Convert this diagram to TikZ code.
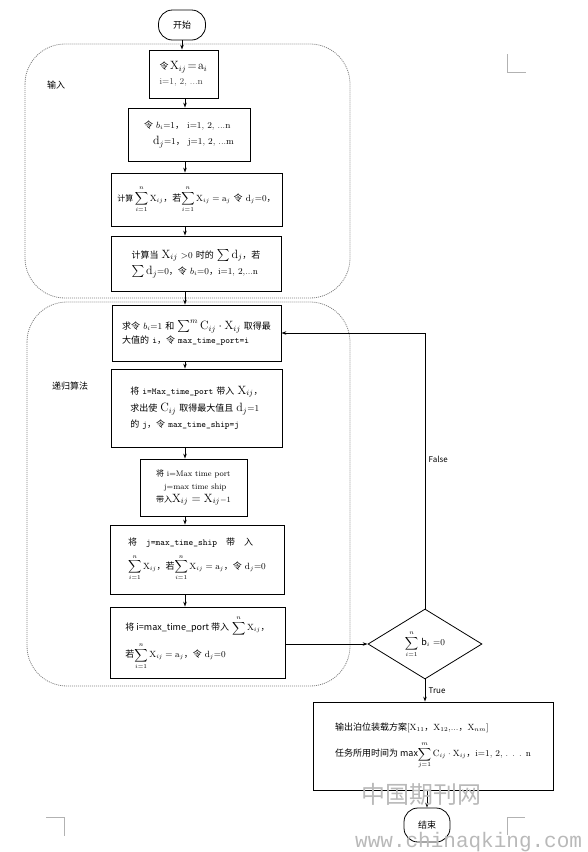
\documentclass[tikz,border=0pt]{standalone}
\usepackage{amsmath,amssymb}
\usepackage{fontspec}
\newfontfamily\cjk{Noto Sans CJK SC}
\newfontfamily\wmfont{Liberation Mono}
\usetikzlibrary{arrows.meta,positioning,shapes.geometric}
\newcommand{\zh}[1]{{\cjk #1}}
\newcommand{\X}{\mathrm{X}}

\begin{document}
\begin{tikzpicture}[x=1pt,y=-1pt,>={Stealth[length=5pt,width=3.5pt]},
  box/.style={draw,line width=0.8pt,align=left,inner sep=3pt,font=\fontsize{9}{11}\selectfont},
  term/.style={draw,line width=0.8pt,rounded corners=14pt,font=\cjk\fontsize{9}{11}\selectfont},
  group/.style={draw=gray,dash pattern=on 1pt off 1pt,line width=0.8pt,rounded corners=40pt},
  flow/.style={->,line width=0.8pt},
  cropmark/.style={draw=gray!60,line width=0.6pt}]
  \path[use as bounding box] (0,0) rectangle (587,852);

  % groups
  \draw[group] (25,44) rectangle (350,298);
  \draw[group] (27,302) rectangle (350,686);
  \node[font=\cjk\fontsize{9}{11}\selectfont] (lblin) at (56,85) {输入};
  \node[font=\cjk\fontsize{9}{11}\selectfont] (lblrec) at (70,386) {递归算法};

  % terminals
  \node[term,minimum width=47pt,minimum height=30pt] (start) at (182,25) {开始};
  \node[term,minimum width=46pt,minimum height=34pt] (stop) at (427,825) {结束};

  % input boxes
  \node[box,minimum width=69pt,minimum height=48pt] (b1) at (183.5,74)
    {\zh{令}\,{\large$\X_{ij}\!=\!\mathrm{a}_i$}\\[4pt] {\color{darkgray}i=1, 2, ...n}};
  \node[box,minimum width=122pt,minimum height=53pt] (b2) at (189,134.5)
    {\zh{令} $b_i$=1\zh{，}\ i=1, 2, ...n\\[5pt]
     \quad{\large$\mathrm{d}_j$}=1\zh{，}\ j=1, 2, ...m};
  \node[box,minimum width=171pt,minimum height=53pt] (b3) at (196.5,199.5)
    {{\cjk\footnotesize 计算}\,$\displaystyle\sum_{i=1}^{n}\X_{ij}$\zh{，若}$\displaystyle\sum_{i=1}^{n}\X_{ij}=\mathrm{a}_j$ \zh{令} $\mathrm{d}_j$=0\zh{，}};
  \node[box,minimum width=170pt,minimum height=55pt] (b4) at (196,263.5)
    {\zh{计算当} {\large$\X_{ij}$} >0 \zh{时的} {\large$\sum\mathrm{d}_j$}\zh{，若}\\[3pt]
     {\large$\sum\mathrm{d}_j$}=0\zh{，令} $b_i$=0\zh{，}i=1, 2,...n};

  % recursive boxes
  \node[box,minimum width=169pt,minimum height=56pt] (b5) at (196.5,333)
    {\zh{求令} $b_i$=1 \zh{和} {\large$\sum^{m}\mathrm{C}_{ij}\cdot\X_{ij}$} \zh{取得最}\\[3pt]
     \zh{大值的} {\ttfamily i}\zh{，令} {\ttfamily max\_time\_port=i}};
  \node[box,minimum width=171pt,minimum height=78pt] (b6) at (196.5,408)
    {\zh{将} {\ttfamily i=Max\_time\_port} \zh{带入} {\large$\X_{ij}$}\zh{，}\\[5pt]
     \zh{求出使} {\large$\mathrm{C}_{ij}$} \zh{取得最大值且} {\large$\mathrm{d}_j$}=1\\[5pt]
     \zh{的} {\ttfamily j}\zh{，令} {\ttfamily max\_time\_ship=j}};
  \node[box,minimum width=107pt,minimum height=57pt,font=\fontsize{8}{10}\selectfont] (b7) at (193.5,487.5)
    {\zh{将} i=Max time port\\[3pt]
     \quad j=max time ship\\[3pt]
     \zh{带入}{\large$\X_{ij}=\X_{ij}$}$-1$};
  \node[box,minimum width=174pt,minimum height=69pt] (b8) at (197,559.5)
    {\zh{将}\quad {\ttfamily j=max\_time\_ship}\quad \zh{带}\quad \zh{入}\\[6pt]
     $\displaystyle\sum_{i=1}^{n}\X_{ij}$\zh{，若}$\displaystyle\sum_{i=1}^{n}\X_{ij}=\mathrm{a}_j$\zh{，令} $\mathrm{d}_j$=0};
  \node[box,minimum width=175pt,minimum height=71pt] (b9) at (197.5,642.5)
    {\zh{将 i=max\_time\_port 带入} $\displaystyle\sum^{n}\X_{ij}$\zh{，}\\[6pt]
     \zh{若}$\displaystyle\sum_{i=1}^{n}\X_{ij}=\mathrm{a}_j$\zh{，令} $\mathrm{d}_j$=0};

  % decision and output
  \node[diamond,draw,line width=0.8pt,aspect=1.63,inner sep=0pt,minimum width=114pt,minimum height=70pt,
    font=\fontsize{9}{11}\selectfont] (dec) at (425,644)
    {$\displaystyle\sum_{i=1}^{n}$ {\cjk b}$_{i}$ =0};
  \node[box,minimum width=240pt,minimum height=88pt] (out) at (433,746)
    {\zh{输出泊位装载方案}[$\X_{11}$\zh{，}$\X_{12}$,...\zh{，}$\X_{nm}$]\\[8pt]
     \zh{任务所用时间为 max}$\displaystyle\sum_{j=1}^{m}\mathrm{C}_{ij}\cdot\X_{ij}$\zh{，}i=1, 2, . . . n};

  % connectors
  \coordinate (ax) at (185,0);
  \draw[flow] (start) -- (start |- b1.north);
  \draw[flow] (ax |- b1.south) -- (ax |- b2.north);
  \draw[flow] (ax |- b2.south) -- (ax |- b3.north);
  \draw[flow] (ax |- b3.south) -- (ax |- b4.north);
  \draw[flow] (ax |- b4.south) -- (ax |- b5.north);
  \draw[flow] (ax |- b5.south) -- (ax |- b6.north);
  \draw[flow] (ax |- b6.south) -- (ax |- b7.north);
  \draw[flow] (ax |- b7.south) -- (ax |- b8.north);
  \draw[flow] (ax |- b8.south) -- (ax |- b9.north);
  \draw[flow] (b9.east |- dec) -- (dec.west);
  \draw[flow] (dec.north) |- (b5.east) node[pos=0.27,right,font=\cjk\fontsize{8}{10}\selectfont] {False};
  \draw[flow] (dec.south) -- (dec.south |- out.north) node[midway,right,font=\cjk\fontsize{8}{10}\selectfont] {True};
  \draw[flow] (stop |- out.south) -- (stop.north);

  % page marks and watermark
  \draw[cropmark] (507,54) -- (507,72) -- (526,72);
  \draw[cropmark] (46,817) -- (64,817) -- (64,836);
  \draw[cropmark] (507,835) -- (507,817) -- (525,817);
  \node[text=gray!55,font=\cjk\fontsize{24}{24}\selectfont] (wm1) at (421,794) {中国期刊网};
  \node[text=gray!55,font=\wmfont\fontsize{21}{21}\selectfont,anchor=west,inner sep=0pt] (wm2) at (355,842) {www.chinaqking.com};
\end{tikzpicture}
\end{document}
